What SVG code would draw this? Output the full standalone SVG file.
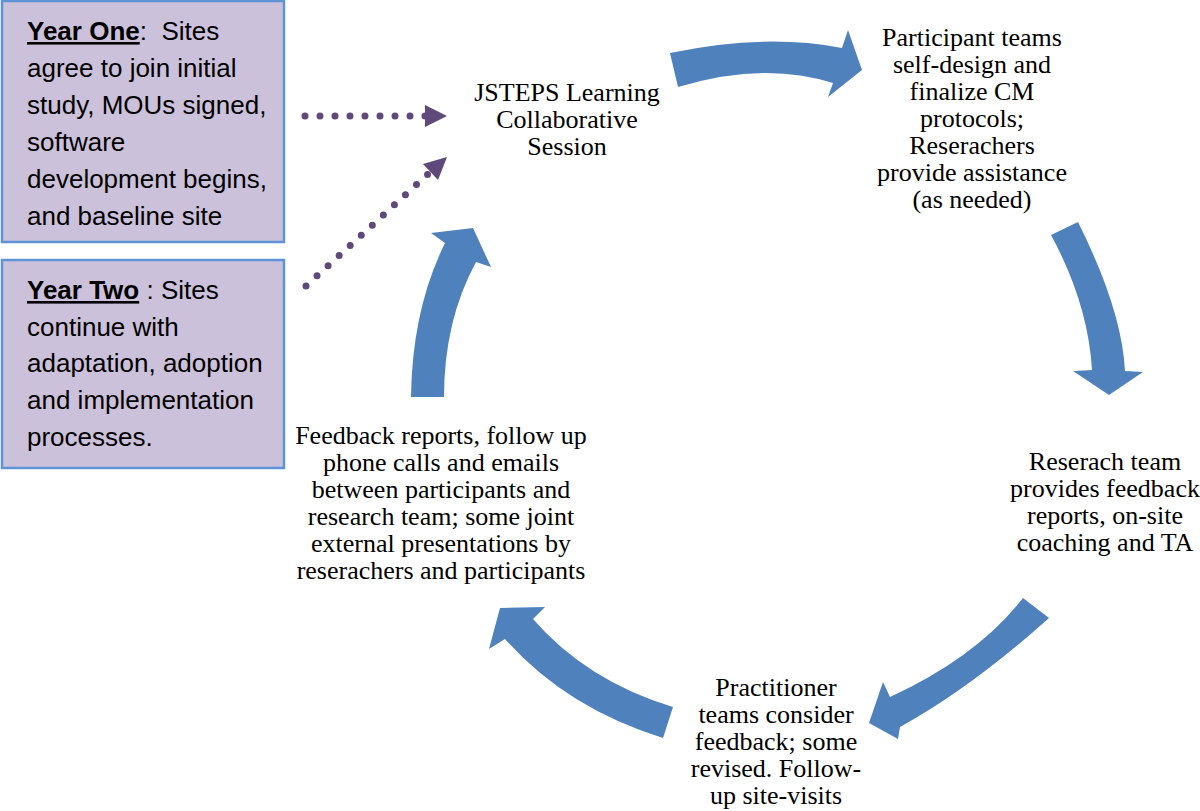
<svg xmlns="http://www.w3.org/2000/svg" width="1200" height="811" viewBox="0 0 1200 811">
<style>
.box{fill:#ccc1da;stroke:#5f93d8;stroke-width:2.5}
.bt{font-family:"Liberation Sans",Arial,sans-serif;font-size:26px;fill:#000}
.ct{font-family:"Liberation Serif","Times New Roman",serif;font-size:26px;fill:#000;text-anchor:middle}
.blk{fill:#4f81bd}
.dot{stroke:#5f497a;stroke-width:7;stroke-linecap:round;stroke-dasharray:0 15;fill:none}
.dh{fill:#5f497a}
</style>
<rect width="1200" height="811" fill="#fff"/>
<g id="year-one">
<rect class="box" x="2" y="1" width="282" height="241"/>
<text class="bt" x="27" y="40"><tspan font-weight="bold" text-decoration="underline">Year One</tspan><tspan xml:space="preserve">:  Sites</tspan></text>
<text class="bt" x="27" y="77">agree to join initial</text>
<text class="bt" x="27" y="114">study, MOUs signed,</text>
<text class="bt" x="27" y="151">software</text>
<text class="bt" x="27" y="188">development begins,</text>
<text class="bt" x="27" y="225">and baseline site</text>
</g>
<g id="year-two">
<rect class="box" x="2" y="260" width="282" height="208"/>
<text class="bt" x="27" y="299"><tspan font-weight="bold" text-decoration="underline">Year Two</tspan><tspan xml:space="preserve"> : Sites</tspan></text>
<text class="bt" x="27" y="336">continue with</text>
<text class="bt" x="27" y="372">adaptation, adoption</text>
<text class="bt" x="27" y="409">and implementation</text>
<text class="bt" x="27" y="446">processes.</text>
</g>
<g id="jsteps">
<text class="ct" x="567" y="101">JSTEPS Learning</text>
<text class="ct" x="567" y="128">Collaborative</text>
<text class="ct" x="567" y="155">Session</text>
</g>
<g id="participant">
<text class="ct" x="972" y="46">Participant teams</text>
<text class="ct" x="972" y="73">self-design and</text>
<text class="ct" x="972" y="100">finalize CM</text>
<text class="ct" x="972" y="127">protocols;</text>
<text class="ct" x="972" y="154">Reserachers</text>
<text class="ct" x="972" y="181">provide assistance</text>
<text class="ct" x="972" y="208">(as needed)</text>
</g>
<g id="research">
<text class="ct" x="1105" y="470">Reserach team</text>
<text class="ct" x="1105" y="497">provides feedback</text>
<text class="ct" x="1105" y="524">reports, on-site</text>
<text class="ct" x="1105" y="551">coaching and TA</text>
</g>
<g id="practitioner">
<text class="ct" x="776" y="696">Practitioner</text>
<text class="ct" x="776" y="723">teams consider</text>
<text class="ct" x="776" y="750">feedback; some</text>
<text class="ct" x="776" y="777">revised. Follow-</text>
<text class="ct" x="776" y="804">up site-visits</text>
</g>
<g id="feedback">
<text class="ct" x="441" y="444">Feedback reports, follow up</text>
<text class="ct" x="441" y="471">phone calls and emails</text>
<text class="ct" x="441" y="498">between participants and</text>
<text class="ct" x="441" y="525">research team; some joint</text>
<text class="ct" x="441" y="552">external presentations by</text>
<text class="ct" x="441" y="579">reserachers and participants</text>
</g>
<g id="connectors">
<path class="blk" d="M670,53 Q764,33 842,48 L848,30 L862,70 L828,97 L833,83 Q764,61 678,87 Z"/>
<path class="blk" d="M1051,235 L1078,222 Q1122,310 1125,371 L1143,372 L1109,395 L1073,371 L1092,370 Q1088,303 1051,235 Z"/>
<path class="blk" d="M1023,598 L1049,618 Q971,688 900,727 L898,739 L869,723 L883,682 L890,697 Q977,657 1023,598 Z"/>
<path class="blk" d="M663,738 L673,707 Q587,681 533,619 L545,607 L500,608 L489,649 L505,639 Q566,708 663,738 Z"/>
<path class="blk" d="M411,397 L444,397 Q444,321 476,262 L491,267 L473,228 L431,233 L445,243 Q412,310 411,397 Z"/>
<line class="dot" x1="305" y1="116" x2="426" y2="116"/>
<polygon class="dh" points="425,105 447,116 425,127"/>
<line class="dot" x1="306" y1="286" x2="428" y2="174"/>
<polygon class="dh" points="447,157 438,180 423,164"/>
</g>
</svg>
